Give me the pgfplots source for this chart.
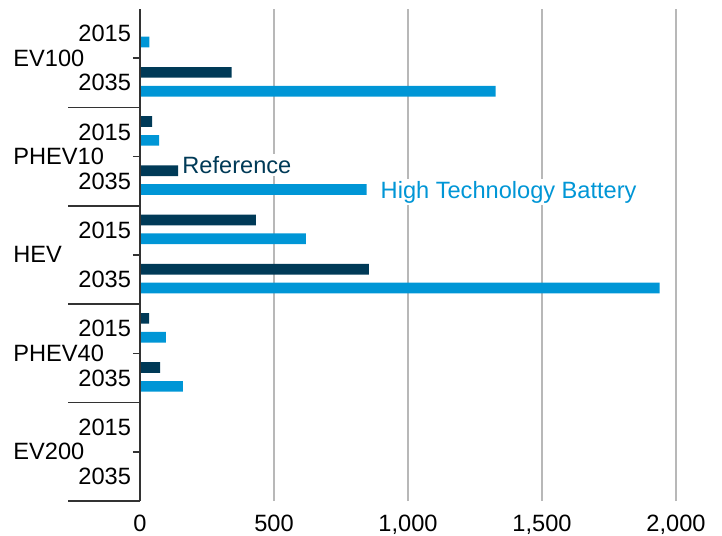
\documentclass[border=0pt]{standalone}
\usepackage{pgfplots}
\pgfplotsset{compat=1.18}
\usepackage{fontspec}
\setmainfont{Liberation Sans}
\definecolor{refc}{HTML}{003A57}
\definecolor{htbc}{HTML}{0096D6}

% y positions: 9 = EV100 2015 (top) ... 0 = EV200 2035 (bottom)
\pgfplotstableread{
y x
9 0
8 342
7 45
6 142
5 432
4 854
3 34
2 75
1 0
0 0
}\reftab
\pgfplotstableread{
y x
9 35
8 1327
7 71
6 846
5 619
4 1939
3 97
2 160
1 0
0 0
}\htbtab

\begin{document}
\begin{tikzpicture}[font=\fontsize{11.8}{14}\selectfont]
\begin{axis}[
    xbar,
    scale only axis,
    width=268pt, height=246pt,
    xmin=0, xmax=2000,
    ymin=-0.5, ymax=9.5,
    clip=false,
    bar width=5.35pt,
    axis line style={draw=none},
    tick pos=left,
    xtick={0,500,1000,1500,2000},
    xtick style={draw=none},
    xmajorgrids,
    grid style={draw=black!28, line width=0.6pt},
    xticklabel style={yshift=-3.5pt},
    ytick={0,...,9},
    yticklabels={2035,2015,2035,2015,2035,2015,2035,2015,2035,2015},
    major tick length=0pt,
    extra y ticks={0.5,2.5,4.5,6.5,8.5},
    extra y tick labels={},
    extra y tick style={major tick length=3.5pt, tick align=outside,
        tick style={draw=black!80, line width=0.75pt}},
    yticklabel style={xshift=-1pt},
    /pgf/number format/assume math mode=true,
    /pgf/number format/1000 sep={,},
]
\addplot[xbar, fill=refc, draw=none, bar shift=5.2pt] table[x=x, y=y] {\reftab};
\addplot[xbar, fill=htbc, draw=none, bar shift=-4.2pt] table[x=x, y=y] {\htbtab};

\coordinate (bbsw) at (rel axis cs:0,0);
\coordinate (bbne) at (rel axis cs:1,1);
\draw[black!80, line width=0.75pt] (rel axis cs:0,0) -- (rel axis cs:0,1);
\pgfplotsinvokeforeach{7.5,5.5,3.5,1.5,-0.5}{
    \draw[black!80, line width=0.75pt] (axis cs:0,#1) -- ++(-36pt,0pt);
}
\node[anchor=base west, inner sep=0pt] at ([xshift=-63.5pt, yshift=-4pt]axis cs:0,8.5) {EV100};
\node[anchor=base west, inner sep=0pt] at ([xshift=-63.5pt, yshift=-4pt]axis cs:0,6.5) {PHEV10};
\node[anchor=base west, inner sep=0pt] at ([xshift=-63.5pt, yshift=-4pt]axis cs:0,4.5) {HEV};
\node[anchor=base west, inner sep=0pt] at ([xshift=-63.5pt, yshift=-4pt]axis cs:0,2.5) {PHEV40};
\node[anchor=base west, inner sep=0pt] at ([xshift=-63.5pt, yshift=-4pt]axis cs:0,0.5) {EV200};

\node[anchor=base west, fill=white, text=refc, inner sep=1pt]
    at ([xshift=1pt, yshift=3.9pt]axis cs:142,6) {Reference};
\node[anchor=base west, fill=white, text=htbc, inner sep=1pt]
    at ([xshift=5.8pt, yshift=-8.5pt]axis cs:846,6) {High Technology Battery};
\end{axis}
\pgfresetboundingbox
\path ([shift={(-70pt,-17pt)}]bbsw) rectangle ([shift={(23pt,4.5pt)}]bbne);
\end{tikzpicture}
\end{document}
